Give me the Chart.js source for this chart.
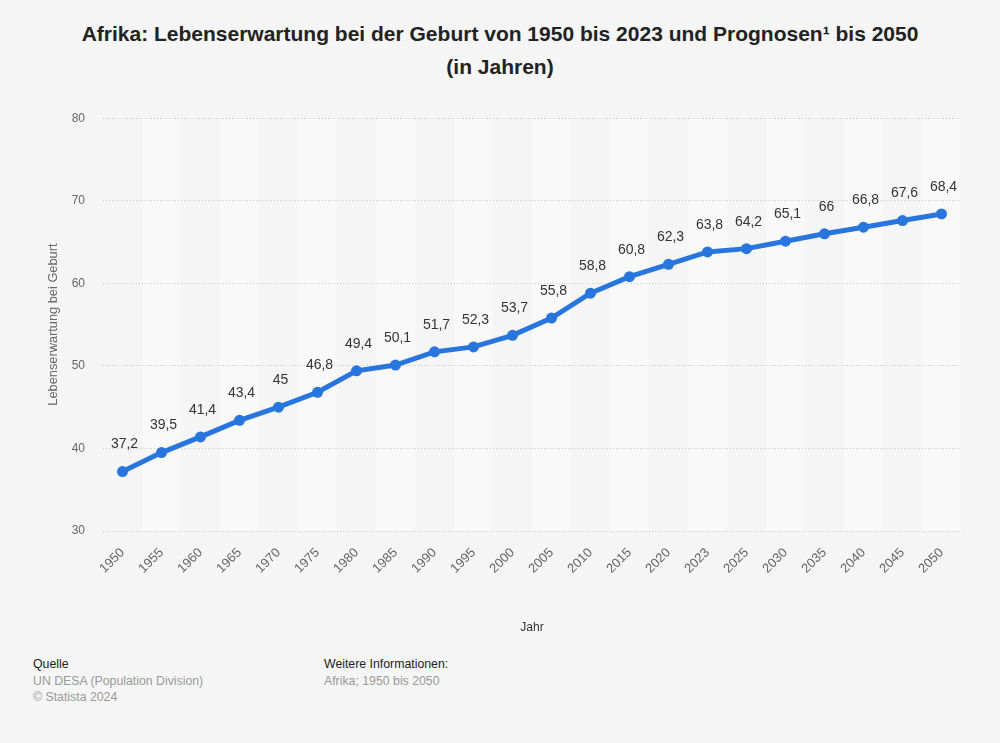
<!DOCTYPE html>
<html lang="de">
<head>
  <meta charset="UTF-8">
  <title>Afrika: Lebenserwartung bei der Geburt</title>
  <script src="https://cdn.jsdelivr.net/npm/chart.js"></script>
  <style>
    body {
      margin: 0;
      width: 1000px;
      height: 743px;
      background: #f5f5f5;
      font-family: "Liberation Sans", Arial, sans-serif;
      position: relative;
      overflow: hidden;
    }
    .title {
      position: absolute;
      top: 17px;
      left: 0;
      width: 1000px;
      text-align: center;
      font-weight: bold;
      font-size: 21px;
      line-height: 33px;
      color: #222;
    }
    .chart-box {
      position: absolute;
      top: 93px;
      left: 0;
      width: 1000px;
      height: 546px;
    }
    .foot {
      position: absolute;
      top: 656px;
      font-size: 12.3px;
      line-height: 16.5px;
      color: #999;
    }
    .foot b {
      font-weight: normal;
      color: #222;
    }
  </style>
</head>
<body>
  <div class="title">Afrika: Lebenserwartung bei der Geburt von 1950 bis 2023 und Prognosen¹ bis 2050<br>(in Jahren)</div>

  <div class="chart-box">
    <canvas id="lifeChart"></canvas>
  </div>

  <div class="foot" style="left: 33px;">
    <b>Quelle</b><br>
    UN DESA (Population Division)<br>
    © Statista 2024
  </div>
  <div class="foot" style="left: 324px;">
    <b>Weitere Informationen:</b><br>
    Afrika; 1950 bis 2050
  </div>

  <script>
    const years = ['1950', '1955', '1960', '1965', '1970', '1975', '1980', '1985', '1990', '1995', '2000',
                   '2005', '2010', '2015', '2020', '2023', '2025', '2030', '2035', '2040', '2045', '2050'];
    const lifeExpectancy = [37.2, 39.5, 41.4, 43.4, 45, 46.8, 49.4, 50.1, 51.7, 52.3, 53.7,
                            55.8, 58.8, 60.8, 62.3, 63.8, 64.2, 65.1, 66, 66.8, 67.6, 68.4];
    const yTicks = [30, 40, 50, 60, 70, 80];

    const fontFamily = '"Liberation Sans", Arial, sans-serif';

    // alternating column shading behind the plot
    const bandPlugin = {
      id: 'bands',
      beforeDraw(chart) {
        const { ctx, chartArea, scales } = chart;
        const x = scales.x;
        const step = x.getPixelForValue(1) - x.getPixelForValue(0);
        ctx.save();
        ctx.fillStyle = 'rgba(255, 255, 255, 0.45)';
        years.forEach((y, i) => {
          if (i % 2 === 1) {
            const cx = x.getPixelForValue(i);
            ctx.fillRect(cx - step / 2, chartArea.top, step, chartArea.bottom - chartArea.top);
          }
        });
        ctx.restore();
      }
    };

    // value labels above each point
    const labelPlugin = {
      id: 'valueLabels',
      afterDatasetsDraw(chart) {
        const { ctx } = chart;
        const meta = chart.getDatasetMeta(0);
        ctx.save();
        ctx.font = '14px ' + fontFamily;
        ctx.fillStyle = '#333';
        ctx.textAlign = 'center';
        ctx.textBaseline = 'middle';
        meta.data.forEach((pt, i) => {
          const txt = String(lifeExpectancy[i]).replace('.', ',');
          ctx.fillText(txt, pt.x + 2, pt.y - 27);
        });
        ctx.restore();
      }
    };

    new Chart(document.getElementById('lifeChart'), {
      type: 'line',
      data: {
        labels: years,
        datasets: [{
          label: 'Lebenserwartung bei Geburt',
          data: lifeExpectancy,
          borderColor: '#2876dd',
          backgroundColor: '#2876dd',
          borderWidth: 5,
          pointRadius: 5.5,
          pointBorderWidth: 0,
          pointHoverRadius: 5.5,
          tension: 0
        }]
      },
      options: {
        responsive: true,
        maintainAspectRatio: false,
        animation: false,
        layout: {
          padding: { left: 42, right: 39, top: 11, bottom: 0 }
        },
        plugins: {
          legend: { display: false },
          tooltip: { enabled: false }
        },
        scales: {
          x: {
            offset: true,
            grid: { display: false },
            border: { display: false },
            ticks: {
              color: '#666',
              font: { family: fontFamily, size: 13 },
              minRotation: 45,
              maxRotation: 45,
              autoSkip: false,
              padding: 6
            },
            title: {
              display: true,
              text: 'Jahr',
              color: '#333',
              font: { family: fontFamily, size: 12 }
            },
            afterFit(scale) {
              scale.height = 108;
            }
          },
          y: {
            min: 30,
            max: 80,
            afterBuildTicks(scale) {
              scale.ticks = yTicks.map(v => ({ value: v }));
            },
            grid: {
              color: '#c8c8c8',
              drawTicks: false
            },
            border: { display: false, dash: [1, 2] },
            ticks: {
              color: '#666',
              font: { family: fontFamily, size: 12 },
              padding: 18
            },
            title: {
              display: true,
              text: 'Lebenserwartung bei Geburt',
              color: '#666',
              font: { family: fontFamily, size: 12.8 }
            },
            afterFit(scale) {
              scale.width = 61;
            }
          }
        }
      },
      plugins: [bandPlugin, labelPlugin]
    });
  </script>
</body>
</html>
